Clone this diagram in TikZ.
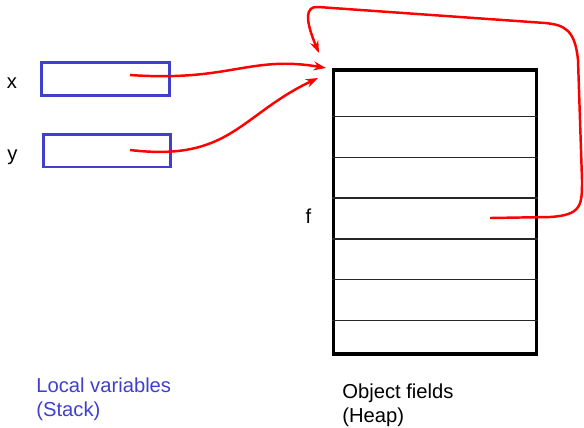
\documentclass[tikz,border=0pt]{standalone}
\usepackage{fontspec}
\setmainfont{Liberation Sans}
\usetikzlibrary{arrows.meta}

\definecolor{stackblue}{RGB}{64,64,204}

\begin{document}
\begin{tikzpicture}[
            x=0.02cm, y=-0.02cm,
            % Style for the local variable boxes
            varbox/.style={draw=stackblue, line width=1.7pt, minimum width=2.56cm, minimum height=0.66cm, inner sep=0pt},
            % Style for the heap object
            heapbox/.style={draw=black, line width=1.9pt, minimum width=4.06cm, minimum height=5.68cm, inner sep=0pt},
            % Style for the field separators
            row/.style={line width=0.85pt, black!85},
            % Style for the references
            ref/.style={red, line width=1.4pt, -{Stealth[length=7pt, width=5pt]}},
            % Style for text
            txt/.style={font=\fontsize{11.5}{13.7}\selectfont, inner sep=0pt}
        ]
            \useasboundingbox (0,0) rectangle (584,427);

            % --- Stack ---
            \node[varbox] (boxx) at (105.5,79) {};
            \node[varbox] (boxy) at (107,150.5) {};
            \node[txt, anchor=base] (labx) at (12,88) {x};
            \node[txt, anchor=base] (laby) at (12.5,160) {y};
            \node[txt, anchor=north west, align=left, text=stackblue] (stack) at (36,377) {Local variables\\(Stack)};

            % --- Heap ---
            \node[heapbox] (heap) at (435,212) {};
            \foreach \y in {116.5,157.25,198,238.75,279.5,320.25}
                \draw[row] (heap.west |- 0,\y) -- (heap.east |- 0,\y);
            \node[txt, anchor=base] (labf) at (308.5,223) {f};
            \node[txt, anchor=north west, align=left] (heaplab) at (342,383) {Object fields\\(Heap)};

            % --- References ---
            \coordinate (xs) at (130,75);
            \coordinate (ys) at (130,150);
            \coordinate (fs) at (490,218);
            \coordinate (xin) at (326,68);
            \coordinate (yin) at (318,78);
            \coordinate (fin) at (319,53);

            \draw[ref] (xs) .. controls (230,82) and (250,55) .. (xin);
            \draw[ref] (ys) .. controls (230,162) and (240,115) .. (yin);
            \draw[ref] (fs) -- (550,217) .. controls (582,215) and (582,205) .. (582,180)
                -- (578,60) .. controls (575,30) and (565,25) .. (545,23)
                -- (318,7) .. controls (305,6) and (305,20) .. (fin);

        \end{tikzpicture}
\end{document}
